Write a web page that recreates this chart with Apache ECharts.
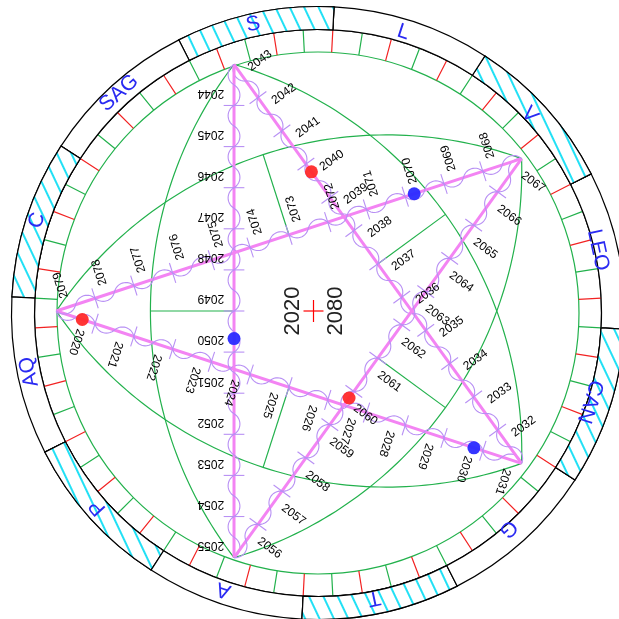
<!DOCTYPE html>
<html>
<head>
<meta charset="utf-8">
<script src="https://cdn.jsdelivr.net/npm/echarts@6/dist/echarts.min.js"></script>
<style>
  html, body { margin: 0; padding: 0; background: #fff; }
  #chart { width: 619px; height: 619px; }
</style>
</head>
<body>
<div id="chart"></div>
<script>
// zodiac ring, counter-clockwise, first sector starts at -3 deg
const signs = ['LEO', 'V', 'L', 'S', 'SAG', 'C', 'AQ', 'P', 'A', 'T', 'G', 'CAN']
const hatched = [false, true, false, true, false, true, false, true, false, true, false, true]
const signStart = -3

// pentagram corners (deg), in the order the years run
const vertexAngles = [180, 324, 108, 252, 36]
const years = [
  2020, 2021, 2022, 2023, 2024, 2025, 2026, 2027, 2028, 2029, 2030, 2031,
  2032, 2033, 2034, 2035, 2036, 2037, 2038, 2039, 2040, 2041, 2042, 2043,
  2044, 2045, 2046, 2047, 2048, 2049, 2050, 2051, 2052, 2053, 2054, 2055,
  2056, 2057, 2058, 2059, 2060, 2061, 2062, 2063, 2064, 2065, 2066, 2067,
  2068, 2069, 2070, 2071, 2072, 2073, 2074, 2075, 2076, 2077, 2078, 2079
]
const redDots = [2020.67, 2040.77, 2060.8]
const blueDots = [2030.77, 2050.67, 2070.77]
const centerLabels = ['2020', '2080']

const CX = 318, CY = 313
const R_IN = 261, R_MID = 283.5, R_OUT = 306.5
const EXT = 310
const PER_EDGE = 12
const GREEN = '#22b14c'
const RED = '#f22222'

const rad = d => d * Math.PI / 180

function vtx(e) {
  const a = rad(vertexAngles[e % 5])
  return [R_IN * Math.cos(a), R_IN * Math.sin(a)]
}
function edge(e) {
  const A = vtx(e), B = vtx(e + 1)
  const L = Math.hypot(B[0] - A[0], B[1] - A[1])
  const d = [(B[0] - A[0]) / L, (B[1] - A[1]) / L]
  return { A, B, L, d, n: [d[1], -d[0]] }
}
function at(e, u, off) {
  const g = edge(e)
  return [g.A[0] + g.d[0] * u + g.n[0] * off, g.A[1] + g.d[1] * u + g.n[1] * off]
}
function yearPos(y) {
  const i = y - years[0]
  const e = Math.min(Math.floor(i / PER_EDGE), 4)
  return at(e, (i - e * PER_EDGE) / PER_EDGE * edge(e).L, 0)
}

const chart = echarts.init(document.getElementById('chart'))

chart.setOption({
  animation: false,
  grid: { left: CX - EXT, top: CY - EXT, width: EXT * 2, height: EXT * 2 },
  xAxis: { type: 'value', min: -EXT, max: EXT, show: false },
  yAxis: { type: 'value', min: -EXT, max: EXT, show: false },
  polar: { center: [CX, CY], radius: [R_IN, R_MID] },
  angleAxis: {
    type: 'value', min: 0, max: 360, interval: 6, startAngle: 3,
    axisLine: { show: false }, axisTick: { show: false }, axisLabel: { show: false },
    splitLine: { show: true, lineStyle: { color: [RED, GREEN], width: 1.2 } }
  },
  radiusAxis: {
    type: 'value', min: 0, max: 1, interval: 1,
    axisLine: { show: false }, axisTick: { show: false }, axisLabel: { show: false },
    splitLine: { show: true, lineStyle: { color: [GREEN, '#000'], width: 1.2 } }
  },
  series: [
    {
      type: 'pie',
      center: [CX, CY],
      radius: [R_MID, R_OUT],
      startAngle: 360 + signStart,
      clockwise: false,
      silent: true,
      emphasis: { disabled: true },
      label: { show: false },
      labelLine: { show: false },
      itemStyle: { color: '#fff', borderColor: '#000', borderWidth: 1.2 },
      data: signs.map((s, i) => ({
        name: s,
        value: 1,
        itemStyle: hatched[i] ? {
          decal: {
            symbol: 'rect', symbolSize: 1, symbolKeepAspect: false,
            color: '#22e0f5', backgroundColor: '#fff',
            dashArrayX: [1, 0], dashArrayY: [2, 11], rotation: 1.13
          }
        } : {}
      }))
    },
    {
      // sign names
      type: 'custom',
      coordinateSystem: 'cartesian2d',
      z: 5,
      silent: true,
      data: signs.map((s, i) => [i]),
      renderItem(params, api) {
        const i = params.dataIndex
        const mid = signStart + 30 * i + 15
        const p = api.coord([295 * Math.cos(rad(mid)), 295 * Math.sin(rad(mid))])
        return {
          type: 'text', x: p[0], y: p[1], rotation: rad(mid - 90),
          style: {
            text: signs[i], fill: '#2a2af2', align: 'center', verticalAlign: 'middle',
            font: '21px "Liberation Sans", Arial, sans-serif'
          }
        }
      }
    },
    {
      // curved arcs + their middle spokes
      type: 'custom',
      coordinateSystem: 'cartesian2d',
      z: 3,
      silent: true,
      data: vertexAngles.map((a, i) => [i]),
      renderItem(params, api) {
        const g = edge(params.dataIndex)
        const M = [(g.A[0] + g.B[0]) / 2, (g.A[1] + g.B[1]) / 2]
        const mLen = Math.hypot(M[0], M[1])
        const out = [M[0] / mLen, M[1] / mLen]
        const s = 0.325 * R_IN
        const rc = (g.L * g.L / 4 + s * s) / (2 * s)
        const C = [M[0] - (rc - s) * out[0], M[1] - (rc - s) * out[1]]
        const phi0 = Math.atan2(out[1], out[0])
        const alpha = Math.asin(g.L / 2 / rc)
        const pts = []
        for (let k = 0; k <= 80; k++) {
          const phi = phi0 - alpha + 2 * alpha * k / 80
          pts.push(api.coord([C[0] + rc * Math.cos(phi), C[1] + rc * Math.sin(phi)]))
        }
        const apex = [M[0] + s * out[0], M[1] + s * out[1]]
        return {
          type: 'group',
          children: [
            { type: 'polyline', shape: { points: pts }, style: { stroke: GREEN, lineWidth: 1.2, fill: null } },
            {
              type: 'line',
              shape: { x1: api.coord(M)[0], y1: api.coord(M)[1], x2: api.coord(apex)[0], y2: api.coord(apex)[1] },
              style: { stroke: GREEN, lineWidth: 1.2 }
            }
          ]
        }
      }
    },
    {
      // pentagram edges: line, wave, year ticks
      type: 'custom',
      coordinateSystem: 'cartesian2d',
      z: 4,
      silent: true,
      data: vertexAngles.map((a, i) => [i]),
      renderItem(params, api) {
        const e = params.dataIndex
        const g = edge(e)
        const seg = g.L / PER_EDGE
        const h = seg / 2, sag = 6
        const r = (h * h / 4 + sag * sag) / (2 * sag)
        const wave = []
        const steps = 24 * 12
        for (let k = 0; k <= steps; k++) {
          const u = g.L * k / steps
          const j = Math.min(Math.floor(u / h), 23)
          const w = u - j * h
          const sign = j % 2 === 0 ? 1 : -1
          const off = sign * (Math.sqrt(Math.max(r * r - (w - h / 2) * (w - h / 2), 0)) - (r - sag))
          wave.push(api.coord(at(e, u, off)))
        }
        const children = [
          {
            type: 'line',
            shape: { x1: api.coord(g.A)[0], y1: api.coord(g.A)[1], x2: api.coord(g.B)[0], y2: api.coord(g.B)[1] },
            style: { stroke: '#f384f3', lineWidth: 3 }
          },
          { type: 'polyline', shape: { points: wave }, style: { stroke: '#b890f4', lineWidth: 1.1, fill: null } }
        ]
        for (let k = 1; k < PER_EDGE; k++) {
          const p1 = api.coord(at(e, k * seg, -10.5)), p2 = api.coord(at(e, k * seg, 10.5))
          children.push({
            type: 'line', shape: { x1: p1[0], y1: p1[1], x2: p2[0], y2: p2[1] },
            style: { stroke: '#b890f4', lineWidth: 1.1 }
          })
        }
        return { type: 'group', children }
      }
    },
    {
      // year labels
      type: 'custom',
      coordinateSystem: 'cartesian2d',
      z: 6,
      silent: true,
      data: years.map(y => [y]),
      renderItem(params, api) {
        const i = params.dataIndex
        const e = Math.floor(i / PER_EDGE)
        const g = edge(e)
        const seg = g.L / PER_EDGE
        const p = api.coord(at(e, (i - e * PER_EDGE + 0.7) * seg, 10))
        return {
          type: 'text', x: p[0], y: p[1], rotation: Math.atan2(g.n[1], g.n[0]),
          style: {
            text: String(years[i]), fill: '#000', align: 'left', verticalAlign: 'middle',
            font: '12px "Liberation Sans", Arial, sans-serif'
          }
        }
      }
    },
    {
      type: 'scatter',
      z: 7,
      silent: true,
      symbolSize: 13,
      itemStyle: { color: '#ff2a2a', opacity: 0.95 },
      data: redDots.map(yearPos)
    },
    {
      type: 'scatter',
      z: 7,
      silent: true,
      symbolSize: 13,
      itemStyle: { color: '#2a2aff', opacity: 0.95 },
      data: blueDots.map(yearPos)
    },
    {
      // centre: span of years and a red cross
      type: 'custom',
      coordinateSystem: 'cartesian2d',
      z: 6,
      silent: true,
      data: [[0, 0]],
      renderItem(params, api) {
        const c = api.coord([0, 0])
        const l = api.coord([-21, 0]), r = api.coord([23, 0])
        const font = '22px "Liberation Sans", Arial, sans-serif'
        return {
          type: 'group',
          children: [
            { type: 'line', shape: { x1: c[0] - 10, y1: c[1], x2: c[0] + 10, y2: c[1] }, style: { stroke: '#f00', lineWidth: 1.2 } },
            { type: 'line', shape: { x1: c[0], y1: c[1] - 11, x2: c[0], y2: c[1] + 11 }, style: { stroke: '#f00', lineWidth: 1.2 } },
            { type: 'text', x: l[0], y: l[1], rotation: Math.PI / 2, style: { text: centerLabels[0], fill: '#222', align: 'center', verticalAlign: 'middle', font } },
            { type: 'text', x: r[0], y: r[1], rotation: Math.PI / 2, style: { text: centerLabels[1], fill: '#222', align: 'center', verticalAlign: 'middle', font } }
          ]
        }
      }
    }
  ]
})
</script>
</body>
</html>
